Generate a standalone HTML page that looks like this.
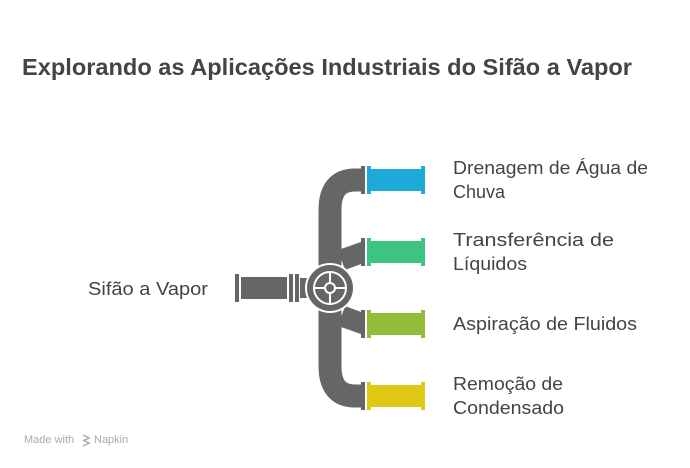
<!DOCTYPE html>
<html><head><meta charset="utf-8"><style>html,body{margin:0;padding:0;background:#fff}svg{display:block}</style></head>
<body>
<svg width="690" height="468" viewBox="0 0 690 468" xmlns="http://www.w3.org/2000/svg" font-family="Liberation Sans, sans-serif">
<text x="22" y="75" font-size="23" font-weight="bold" fill="#444" textLength="610" lengthAdjust="spacingAndGlyphs">Explorando as Aplicações Industriais do Sifão a Vapor</text>

<g fill="#444" font-size="18">
<text x="453" y="174" textLength="195" lengthAdjust="spacingAndGlyphs">Drenagem de Água de</text>
<text x="453" y="198" textLength="52" lengthAdjust="spacingAndGlyphs">Chuva</text>
<text x="453" y="246" textLength="161" lengthAdjust="spacingAndGlyphs">Transferência de</text>
<text x="453" y="270" textLength="74" lengthAdjust="spacingAndGlyphs">Líquidos</text>
<text x="453" y="330" textLength="184" lengthAdjust="spacingAndGlyphs">Aspiração de Fluidos</text>
<text x="453" y="390" textLength="110" lengthAdjust="spacingAndGlyphs">Remoção de</text>
<text x="453" y="414" textLength="111" lengthAdjust="spacingAndGlyphs">Condensado</text>
<text x="88" y="295" textLength="120" lengthAdjust="spacingAndGlyphs">Sifão a Vapor</text>
</g>

<path d="M361 180 L355 180 Q330 180 330 210 L330 366 Q330 396 355 396 L361 396" fill="none" stroke="#666" stroke-width="23"/>
<path d="M338 250 L361 242 L361 264 L345 270 Z" fill="#666"/>
<path d="M338 326 L361 334 L361 312 L345 306 Z" fill="#666"/>

<g>
<rect x="361" y="166" width="4" height="28" fill="#666"/>
<rect x="367" y="166" width="4" height="28" fill="#1eaad9"/><rect x="370" y="169" width="52" height="22" fill="#1eaad9"/><rect x="421" y="166" width="4" height="28" fill="#1eaad9"/>
<rect x="361" y="238" width="4" height="28" fill="#666"/>
<rect x="367" y="238" width="4" height="28" fill="#3ec483"/><rect x="370" y="241" width="52" height="22" fill="#3ec483"/><rect x="421" y="238" width="4" height="28" fill="#3ec483"/>
<rect x="361" y="310" width="4" height="28" fill="#666"/>
<rect x="367" y="310" width="4" height="28" fill="#90bc3a"/><rect x="370" y="313" width="52" height="22" fill="#90bc3a"/><rect x="421" y="310" width="4" height="28" fill="#90bc3a"/>
<rect x="361" y="382" width="4" height="28" fill="#666"/>
<rect x="367" y="382" width="4" height="28" fill="#dfc914"/><rect x="370" y="385" width="52" height="22" fill="#dfc914"/><rect x="421" y="382" width="4" height="28" fill="#dfc914"/>
</g>

<rect x="235" y="274" width="4" height="28" fill="#666"/>
<rect x="241" y="277" width="46" height="22" fill="#666"/>
<rect x="289" y="274" width="4" height="28" fill="#666"/>
<rect x="295" y="274" width="4" height="28" fill="#666"/>
<rect x="300" y="278" width="8" height="20" fill="#666"/>

<circle cx="330" cy="288" r="24" fill="#666" stroke="#fff" stroke-width="2"/>
<circle cx="330" cy="288" r="16" fill="none" stroke="#fff" stroke-width="2"/>
<line x1="314" y1="288" x2="346" y2="288" stroke="#fff" stroke-width="2"/>
<line x1="330" y1="272" x2="330" y2="304" stroke="#fff" stroke-width="2"/>
<circle cx="330" cy="288" r="5" fill="#666" stroke="#fff" stroke-width="2"/>

<text x="24" y="443" font-size="11" fill="#aaa">Made with</text>
<path d="M83 435 l6 3 -6 3 M83 440 l6 3 -6 3" fill="none" stroke="#aaa" stroke-width="1.5"/>
<text x="94" y="443" font-size="11" fill="#aaa">Napkin</text>
</svg>
</body></html>
